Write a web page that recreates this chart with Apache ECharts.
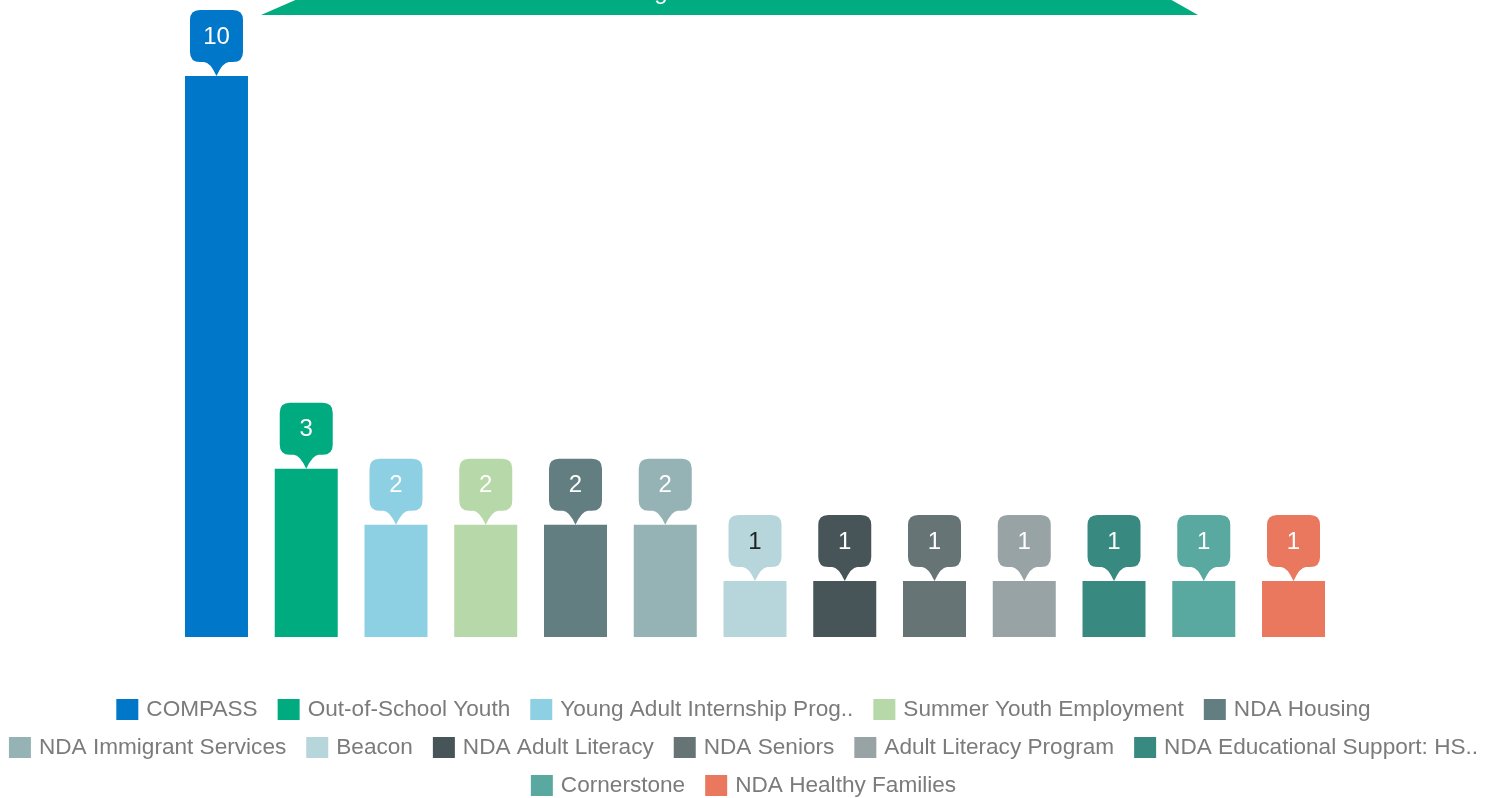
<!DOCTYPE html>
<html>
<head>
<meta charset="utf-8">
<script src="https://cdn.jsdelivr.net/npm/echarts@6/dist/echarts.min.js"></script>
<style>html,body{margin:0;padding:0;background:#fff;}#c{width:1487px;height:798px;}</style>
</head>
<body>
<div id="c"></div>
<script>
const categories = ["COMPASS","Out-of-School Youth","Young Adult Internship Prog..","Summer Youth Employment","NDA Housing","NDA Immigrant Services","Beacon","NDA Adult Literacy","NDA Seniors","Adult Literacy Program","NDA Educational Support: HS..","Cornerstone","NDA Healthy Families"];
const values = [10,3,2,2,2,2,1,1,1,1,1,1,1];
const colors = ["#0077c8","#00ab80","#8dd0e3","#b7d8a8","#627e80","#95b2b5","#b6d6dc","#475559","#677476","#97a3a5","#388a80","#59a9a0","#e9785e"];
const labelColors = ["#fff","#fff","#fff","#fff","#fff","#fff","#222","#fff","#fff","#fff","#fff","#fff","#fff"];
const legendRows = [[0,1,2,3,4],[5,6,7,8,9,10],[11,12]];
const titleText = "Programs Offered";

const chart = echarts.init(document.getElementById('c'));
const bubblePath = 'path://M10,0 L43,0 Q53,0 53,10 L53,42 Q53,52 43,52 L39,52 Q33,52 26.5,66 Q20,52 14,52 L10,52 Q0,52 0,42 L0,10 Q0,0 10,0 Z';

const barSeries = categories.map((name, i) => ({
  name: name,
  type: 'bar',
  stack: 'all',
  barWidth: 63,
  itemStyle: { color: colors[i] },
  data: categories.map((c, j) => j === i ? values[i] : '-'),
  animation: false
}));

const bubbleSeries = {
  type: 'scatter',
  name: 'labels',
  symbol: bubblePath,
  symbolSize: [53, 66],
  symbolOffset: [0, '-50%'],
  animation: false,
  silent: true,
  data: values.map((v, i) => ({
    value: [i, v],
    itemStyle: { color: colors[i], opacity: 1 },
    label: { color: labelColors[i] }
  })),
  label: {
    show: true,
    position: 'inside',
    offset: [0, -6],
    fontSize: 24,
    fontFamily: 'Liberation Sans, Arial, sans-serif',
    formatter: p => String(p.value[1])
  },
  z: 5
};

const legendTops = [693, 731, 769];
const legends = legendRows.map((row, r) => ({
  data: row.map(i => categories[i]),
  left: 'center',
  top: legendTops[r],
  itemWidth: 22,
  itemHeight: 21,
  itemGap: 20,
  icon: 'rect',
  selectedMode: false,
  textStyle: { fontSize: 22.6, color: '#7b7b7b', fontFamily: 'Liberation Sans, Arial, sans-serif', padding: [0,0,0,3] }
}));

chart.setOption({
  backgroundColor: '#fff',
  grid: { left: 171.6, right: 148.6, top: 76, bottom: 161 },
  xAxis: { type: 'category', data: categories, show: false },
  yAxis: { type: 'value', min: 0, max: 10, show: false },
  legend: legends,
  graphic: [
    {
      type: 'polygon',
      shape: { points: [[261, 15], [1198, 15], [1168, -2], [300, -2]] },
      style: { fill: '#00ac80' },
      z: 10
    },
    {
      type: 'text',
      style: {
        text: titleText,
        x: 712, y: 4,
        textAlign: 'center',
        textVerticalAlign: 'bottom',
        fill: '#fff',
        font: '24px Liberation Sans, Arial, sans-serif'
      },
      z: 11
    }
  ],
  series: barSeries.concat([bubbleSeries])
});
</script>
</body>
</html>
